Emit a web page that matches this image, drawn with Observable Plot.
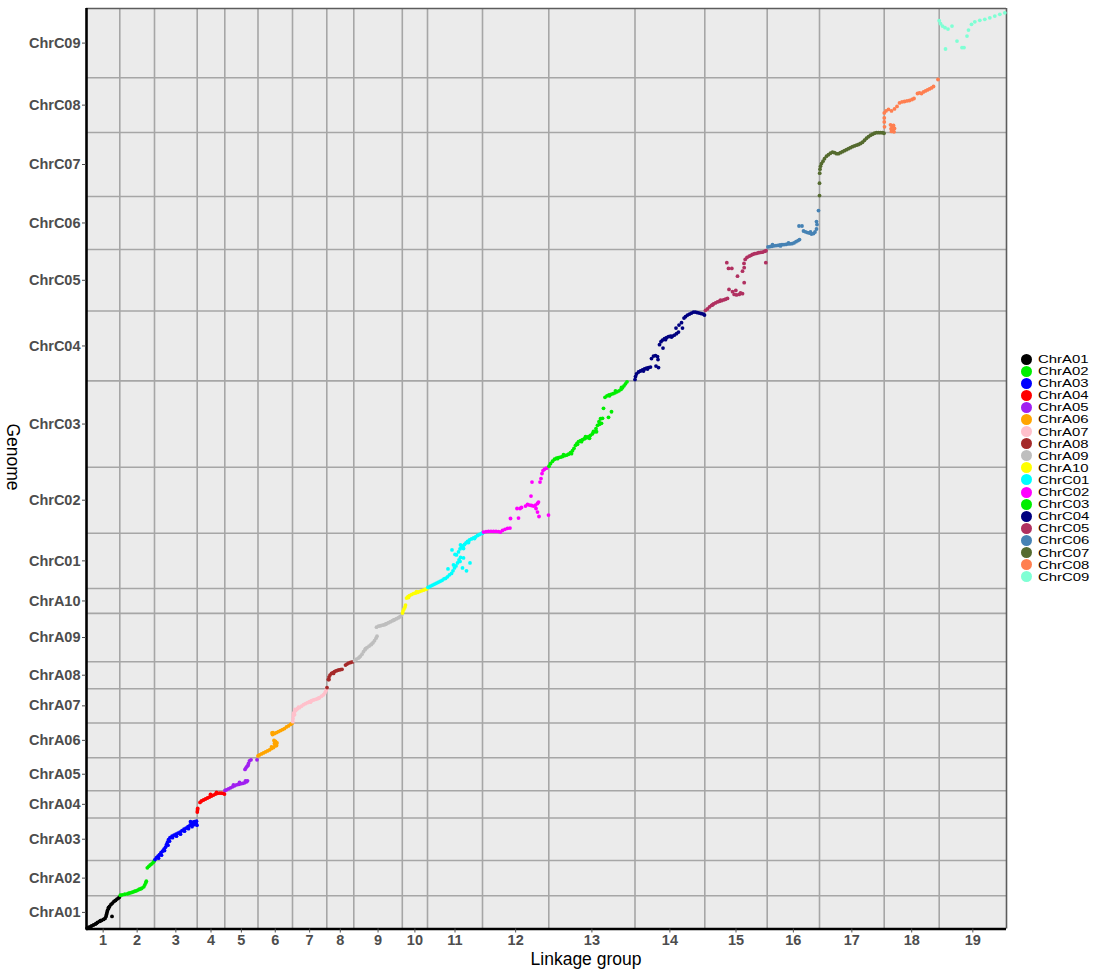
<!DOCTYPE html>
<html>
<head>
<meta charset="utf-8">
<script src="https://cdn.jsdelivr.net/npm/d3@7"></script>
<script src="https://cdn.jsdelivr.net/npm/@observablehq/plot@0.6"></script>
<style>
  body { margin: 0; background: #fff; font-family: "Liberation Sans", Arial, sans-serif; }
  #chart { position: relative; width: 1096px; height: 972px; }
  #chart svg { position: absolute; left: 0; top: 0; }
  .axis-title { position: absolute; font-size: 17.5px; line-height: 17.5px; color: #000; white-space: nowrap; }
  #xtitle { left: 586px; top: 950.5px; transform: translateX(-50%); }
  #ytitle { left: 12px; top: 457px; transform: translate(-50%, -50%) rotate(90deg); }
  #legend { position: absolute; left: 1021px; top: 353px; }
  .key { display: flex; align-items: center; height: 12.1px; font-size: 10.8px; line-height: 12.1px; color: #000; }
  .key span.sw { width: 11px; height: 11px; border-radius: 50%; margin-right: 6px; flex: none; }
  .key span.lab { display: inline-block; transform: scaleX(1.38); transform-origin: left center; white-space: nowrap; }
</style>
</head>
<body>
<div id="chart">
  <div id="xtitle" class="axis-title">Linkage group</div>
  <div id="ytitle" class="axis-title">Genome</div>
  <div id="legend"></div>
</div>
<script>
// Linkage groups (x) and their genetic lengths in cM
const lgLabels = ["1","2","3","4","5","6","7","8","9","10","11","12","13","14","15","16","17","18","19"];
const lgLength = [66.6, 69.4, 85.4, 55.2, 66.4, 69.0, 68.6, 54.0, 97.0, 50.4, 110.0, 132.6, 172.4, 139.6, 124.8, 104.6, 129.4, 110.0, 134.6];

// Reference chromosomes (y) and their physical lengths in Mb
const chromosomes = ["ChrA01","ChrA02","ChrA03","ChrA04","ChrA05","ChrA06","ChrA07","ChrA08","ChrA09","ChrA10",
                     "ChrC01","ChrC02","ChrC03","ChrC04","ChrC05","ChrC06","ChrC07","ChrC08","ChrC09"];
const chrLength = [23.27, 24.79, 29.77, 19.15, 23.07, 24.40, 24.01, 18.96, 33.87, 17.40,
                   38.83, 46.22, 60.57, 48.93, 43.15, 37.23, 44.77, 38.48, 48.51];

const palette = ["#000000","#00EE00","#0000FF","#FF0000","#A020F0","#FFA500","#FFC0CB","#A52A2A","#BEBEBE","#FFFF00",
                 "#00FFFF","#FF00FF","#00EE00","#000080","#B03060","#4682B4","#556B2F","#FF7F50","#7FFFD4"];

// Markers: [position in linkage group (cM), position on chromosome (Mb)]
const ptsA01 = [[1,0.4],[4,1.1],[7,1.4],[10,2.1],[14,2.8],[18,3.5],[20,4.0],[22,4.6],[26,5.3],[28,5.8],[30,6.0],[34,6.7],[37,7.4],[39,8.8],[40,10.2],[41,11.6],[42,13.0],[44,14.4],[44,15.0],[46,15.8],[49,17.2],[52,18.2],[55,19.3],[58,20.0],[61,21.0],[64,21.7],[66,22.4],[51,8.8]];
const ptsA02 = [[1,0.4],[5,0.7],[10,1.1],[15,1.4],[18,1.8],[21,2.1],[24,2.4],[27,2.8],[30,3.2],[33,3.5],[36,4.0],[39,4.6],[42,4.9],[44,5.3],[48,6.3],[50,7.7],[52,9.1],[53,10.2],[55,19.6],[58,20.7],[61,21.7],[64,22.4],[67,23.5],[69,24.5]];
const ptsA03 = [[1,0.6],[4,2.0],[7,3.0],[10,4.1],[13,5.5],[16,6.5],[19,7.9],[22,9.3],[24,11.1],[26,12.8],[28,14.6],[31,16.0],[35,17.0],[39,17.7],[43,18.4],[47,19.1],[51,19.8],[55,20.9],[59,21.9],[63,22.6],[67,23.7],[71,24.7],[74,25.8],[77,26.8],[80,27.2],[83,26.1],[85,24.7],
  [8,1.6],[14,3.7],[20,6.9],[27,10.7],[30,13.5],[36,16.0],[44,17.0],[52,18.4],[60,20.5],[68,22.3],[75,23.7],[79,25.1],[72,27.2],[84,27.5]];
const ptsA04 = [[0.2,4.2],[0.6,5.6],[1,6.7],[5.6,10.9],[8.6,11.9],[12.6,12.6],[16.6,13.3],[20.6,14.0],[24.6,14.7],[28.6,15.4],[32.6,16.1],[36.6,16.8],[40.6,17.3],[44.6,17.5],[48.6,17.4],[52.6,17.2],[54.6,16.8],[26.6,16.5],[38.6,17.9]];
const ptsA05 = [[0.4,0.2],[3.4,0.6],[7.4,1.3],[11.4,2.0],[15.4,2.7],[19.4,3.4],[23.4,4.1],[27.4,4.4],[31.4,4.8],[35.4,5.1],[39.4,5.5],[43.4,6.2],[45.4,6.9],[40.4,14.9],[42.4,16.0],[44.4,17.0],[46.4,17.7],[47.4,19.1],[49.4,20.9],[52.4,21.6],[64.4,21.6],[17.4,4.1],[29.4,5.8],[41.4,6.9]];
const ptsA06 = [[0,1.3],[3,2.0],[7,2.7],[11,3.4],[15,4.1],[19,4.8],[23,5.5],[27,6.5],[31,7.2],[34,8.3],[36,9.3],[38,10.4],[35,11.4],[32,12.1],[29,16.3],[30,17.7],[33,17.0],[37,17.7],[41,18.4],[45,19.1],[49,19.8],[53,20.5],[57,21.6],[61,22.3],[65,23.4],[68,24.1],[27,7.6],[37,8.6],[33,10.0],[28,17.4]];
const ptsA07 = [[0.6,0.9],[1,3.0],[1.6,5.1],[3,7.2],[6,8.6],[10,10.0],[14,10.7],[18,11.8],[22,12.8],[26,13.5],[30,14.2],[34,14.9],[38,15.6],[42,16.1],[46,16.5],[50,17.0],[54,17.7],[58,18.8],[62,19.8],[65,21.2],[67,22.6],[68,23.7],[4,5.8],[12,11.1],[36,14.6],[52,17.4],[2,6.5],[5,9.5],[8,9.4]];
const ptsA08 = [[0.4,0.8],[3,6.4],[4.4,8.2],[6.4,9.6],[9.4,10.7],[12.4,11.3],[15.4,12.0],[18.4,12.5],[21.4,12.9],[24.4,13.2],[27.4,13.4],[30.4,13.6],[37.4,16.6],[40.4,17.3],[43.4,18.0],[47.4,18.4],[51.4,18.8],[4.4,6.4],[13.4,10.7]];
const ptsA09 = [[1.4,0.7],[5.4,1.8],[9.4,2.5],[13.4,3.9],[16.4,5.3],[19.4,7.0],[22.4,8.4],[26.4,9.8],[30.4,10.9],[34.4,11.9],[38.4,13.3],[41.4,14.7],[44.4,16.5],[46.4,17.9],[45.4,24.2],[49.4,24.9],[53.4,25.2],[57.4,25.6],[61.4,25.9],[65.4,26.6],[69.4,27.3],[73.4,28.0],[77.4,28.7],[81.4,29.4],[85.4,30.1],[89.4,30.8],[92.4,31.5],[95.4,32.6],[11.4,3.2],[23.4,9.1],[35.4,12.3],[63.4,26.3],[79.4,29.1]];
const ptsA10 = [[0.4,0.2],[1.4,1.6],[3.4,3.0],[5.4,4.4],[6.4,5.8],[8.4,10.7],[11.4,11.8],[14.4,12.5],[18.4,13.2],[22.4,13.9],[26.4,14.2],[30.4,14.7],[34.4,15.3],[38.4,15.8],[42.4,16.3],[46.4,16.8],[49.4,17.2],[12.4,11.1],[28.4,15.3]];
const ptsC01 = [[1,0.8],[5,1.5],[9,2.2],[13,2.9],[17,3.6],[21,4.3],[25,5.0],[29,5.7],[33,6.8],[36,7.1],
  [40,8.2],[44,9.6],[48,10.6],[51,12.4],[54,14.5],[57,15.9],[60,18.0],[63,20.1],[66,21.8],[52,16.6],[58,23.6],[49,27.1],[55,23.9],[65,19.0],[70,14.5],[78,12.4],[85,18.0],[41,13.8],[72,21.5],
  [62,25.7],[65,27.8],[68,28.8],[71,29.9],[74,30.9],[77,32.0],[80,33.0],[84,34.1],[88,34.8],[92,35.5],[96,36.2],[100,37.2],[104,37.9],[108,38.6],[110,38.8],[72,28.1],[82,32.3],[94,35.1],[66,30.6]];
const ptsC02 = [[2,0.8],[7,1.1],[12,1.3],[17,1.3],[22,1.2],[27,1.2],[32,1.1],[36,0.8],[40,1.9],[45,2.7],[50,3.4],[55,3.6],[56,10.3],[72,10.6],[69,17.3],[75,17.3],[78,18.0],[86,19.0],[90,20.1],[94,19.7],[98,19.4],[102,19.0],[106,19.7],[110,20.8],[112,21.8],[107,17.3],[110,14.8],[113,11.7],[97,26.0],[99,35.8],[115,35.8],[117,38.3],[119,41.8],[121,43.9],[124,44.9],[128,45.6],[132,12.7]];
const ptsC03 = [[0.4,0.7],[3.4,2.5],[7.4,4.2],[11.4,5.6],[15.4,6.3],[19.4,6.8],[23.4,7.1],[27.4,7.5],[31.4,8.1],[35.4,8.5],[39.4,9.1],[43.4,10.2],[47.4,11.6],[50.4,13.3],[53.4,15.4],[56.4,16.8],[59.4,17.9],[63.4,18.6],[67.4,19.3],[71.4,20.0],[75.4,20.7],[79.4,21.4],[83.4,22.4],[87.4,23.5],[91.4,24.9],[94.4,27.0],[97.4,29.4],[100.4,31.9],[103.4,34.0],[107.4,34.3],[105.4,30.8],[109.4,41.3],[119.4,35.0],[125.4,38.9],
  [112.4,49.0],[116.4,50.1],[120.4,50.8],[124.4,51.1],[128.4,51.6],[132.4,52.2],[136.4,52.9],[140.4,53.6],[144.4,54.6],[147.4,55.7],[150.4,57.1],[153.4,58.5],[156.4,59.9],
  [17.4,6.0],[29.4,8.8],[45.4,9.5],[57.4,16.1],[65.4,17.9],[73.4,21.4],[81.4,20.3],[89.4,25.2],[95.4,24.9],[101.4,30.1],[121.4,50.1],[133.4,53.6],[145.4,56.0]];
const ptsC04 = [[0,0.9],[1,3.0],[3,4.8],[7,6.2],[11,6.9],[15,7.6],[19,8.3],[23,9.0],[27,9.3],[31,9.7],[33,15.6],[37,17.4],[41,17.7],[45,17.0],[46,14.9],[42,10.4],[47,9.3],[49,25.4],[52,27.5],[55,28.6],[59,29.6],[63,30.3],[67,31.0],[71,31.4],[75,31.4],[79,32.1],[83,33.1],[87,34.2],[56,23.0],[82,37.0],[88,39.1],[95,37.0],[93,40.8],[98,44.0],[101,45.0],[105,46.1],[109,46.8],[113,47.5],[117,48.2],[121,48.2],[125,47.8],[129,47.5],[133,47.1],[137,46.8],[139,46.1],
  [17,6.9],[25,8.3],[61,28.9],[73,30.7]];
const ptsC05 = [[1.4,0.5],[5.4,1.5],[9.4,2.9],[13.4,4.0],[17.4,5.0],[21.4,5.7],[25.4,6.4],[29.4,6.9],[33.4,7.3],[37.4,7.8],[41.4,8.3],[45.4,8.9],[48.4,15.2],[55.4,13.6],[62,14.5],[58.8,11.7],[63.4,11.3],[68.8,11.7],[75.4,12.2],[78.8,19.9],[65.4,24.5],[75.4,28.0],[78.8,30.4],[78.4,33.4],[44,33.9],[54,29.9],[47.4,29.9],[80.8,36.2],[84.4,37.6],[88.8,38.5],[92.4,39.1],[95.4,39.7],[99.4,40.2],[103.4,40.5],[107.4,40.9],[111.4,41.1],[115.4,41.3],[119.4,41.8],[122.4,42.3],[122,33.9],
  [15.4,4.3],[31.4,7.6],[71.4,12.7]];
const ptsC06 = [[1.6,1.8],[5.6,2.1],[9.6,2.3],[13.6,2.6],[17.6,2.8],[21.6,2.9],[25.6,3.2],[29.6,3.4],[33.6,3.5],[37.6,3.6],[41.6,3.9],[45.6,4.0],[49.6,4.1],[53.6,4.6],[57.6,5.5],[61.6,6.3],[64.6,7.0],[63.6,16.5],[69.6,16.5],[72.6,13.0],[76.6,12.4],[80.6,11.9],[84.6,11.6],[88.6,10.9],[92.6,11.2],[95.6,12.3],[98.6,14.4],[99.6,17.5],[98.6,19.6],[102.6,27.3],
  [10.6,3.4],[26.6,2.5],[42.6,4.6],[86.6,12.3]];
const ptsC07 = [[0,0.6],[0,9.3],[0.4,16.3],[1,19.1],[2,21.2],[4,23.0],[7,24.7],[10,26.5],[14,28.2],[18,29.3],[22,30.3],[26,31.0],[30,30.7],[34,30.0],[38,30.0],[42,30.7],[46,31.4],[50,32.1],[54,32.8],[58,33.5],[62,34.2],[66,34.9],[70,35.4],[74,35.9],[78,36.4],[82,37.1],[86,38.0],[90,39.4],[94,40.8],[98,41.9],[102,42.9],[106,43.6],[110,44.3],[114,44.7],[118,44.7],[122,44.7],[126,44.7],[129,44.3]];
const ptsC08 = [[0.2,13.8],[0.2,10.3],[0.2,7.5],[0.6,4.0],[3.6,15.2],[8.6,16.2],[14.6,15.2],[20.6,16.6],[25.6,18.3],[30.6,20.8],[35.6,21.5],[40.6,21.8],[45.6,22.2],[50.6,22.5],[55.6,23.2],[59.6,23.9],[66.6,27.4],[70.6,27.9],[74.6,27.4],[78.6,28.5],[82.6,29.2],[86.6,29.9],[90.6,30.6],[94.6,31.3],[98.6,32.3],[107.6,37.2],
  [12.6,5.4],[15.6,4.0],[18.6,5.0],[13.6,2.6],[17.6,1.5],[20.6,2.9],[14.6,0.8],[19.6,0.5]];
const ptsC09 = [[0,40.0],[2.6,37.9],[6.6,36.2],[11.6,35.1],[17.6,34.1],[25.6,36.2],[12.6,20.1],[35.6,25.7],[45.6,21.1],[49.6,21.1],[55.6,29.2],[58.6,33.4],[64.6,37.4],[71.2,39.2],[81.2,40.2],[91.2,40.9],[101.2,42.0],[111.2,43.2],[121.2,44.4],[131.2,45.5]];

const markerSets = [ptsA01, ptsA02, ptsA03, ptsA04, ptsA05, ptsA06, ptsA07, ptsA08, ptsA09, ptsA10,
                    ptsC01, ptsC02, ptsC03, ptsC04, ptsC05, ptsC06, ptsC07, ptsC08, ptsC09];

// Cumulative offsets place every group / chromosome end to end
const lgCum = Array.from(d3.cumsum([0, ...lgLength]));
const chrCum = Array.from(d3.cumsum([0, ...chrLength]));
const lgTotal = lgCum[lgCum.length - 1];
const genomeTotal = chrCum[chrCum.length - 1];
const lgMid = lgLength.map((l, i) => lgCum[i] + l / 2);
const chrMid = chrLength.map((l, i) => chrCum[i] + l / 2);

const markers = markerSets.flatMap((pts, i) =>
  pts.map(([cM, Mb]) => ({chr: chromosomes[i], x: lgCum[i] + cM, y: chrCum[i] + Mb}))
);

const gridColor = "#a6a6a6";
const plot = Plot.plot({
  width: 1010,
  height: 972,
  marginLeft: 86,
  marginRight: 4,
  marginTop: 8,
  marginBottom: 43.5,
  style: {fontFamily: "'Liberation Sans', Arial, sans-serif", background: "transparent"},
  x: {domain: [0, lgTotal]},
  y: {domain: [0, genomeTotal]},
  color: {domain: chromosomes, range: palette},
  marks: [
    Plot.frame({fill: "#EBEBEB"}),
    Plot.ruleX(lgCum.slice(1, -1), {stroke: gridColor, strokeWidth: 1.6}),
    Plot.ruleY(chrCum.slice(1, -1), {stroke: gridColor, strokeWidth: 1.6}),
    Plot.ruleX([lgTotal], {stroke: "#5c5c5c", strokeWidth: 1.6}),
    Plot.ruleY([genomeTotal], {stroke: "#5c5c5c", strokeWidth: 1.6}),
    Plot.dot(markers, {x: "x", y: "y", fill: "chr", r: 1.9}),
    Plot.ruleX([0], {stroke: "#000", strokeWidth: 2.6}),
    Plot.ruleY([0], {stroke: "#000", strokeWidth: 2.6}),
    Plot.axisX({
      ticks: lgMid,
      tickFormat: d => lgLabels[lgMid.indexOf(d)],
      tickSize: 4, tickPadding: 2,
      fontSize: 14.5, fontWeight: "bold", color: "#4d4d4d",
      label: null
    }),
    Plot.axisY({
      ticks: chrMid,
      tickFormat: d => chromosomes[chrMid.indexOf(d)],
      tickSize: 4, tickPadding: 2,
      fontSize: 14.5, fontWeight: "bold", color: "#4d4d4d",
      label: null
    })
  ]
});
document.getElementById("chart").prepend(plot);

// Colour key
const legend = d3.select("#legend");
chromosomes.forEach((c, i) => {
  const row = legend.append("div").attr("class", "key");
  row.append("span").attr("class", "sw").style("background", palette[i]);
  row.append("span").attr("class", "lab").text(c);
});
</script>
</body>
</html>
